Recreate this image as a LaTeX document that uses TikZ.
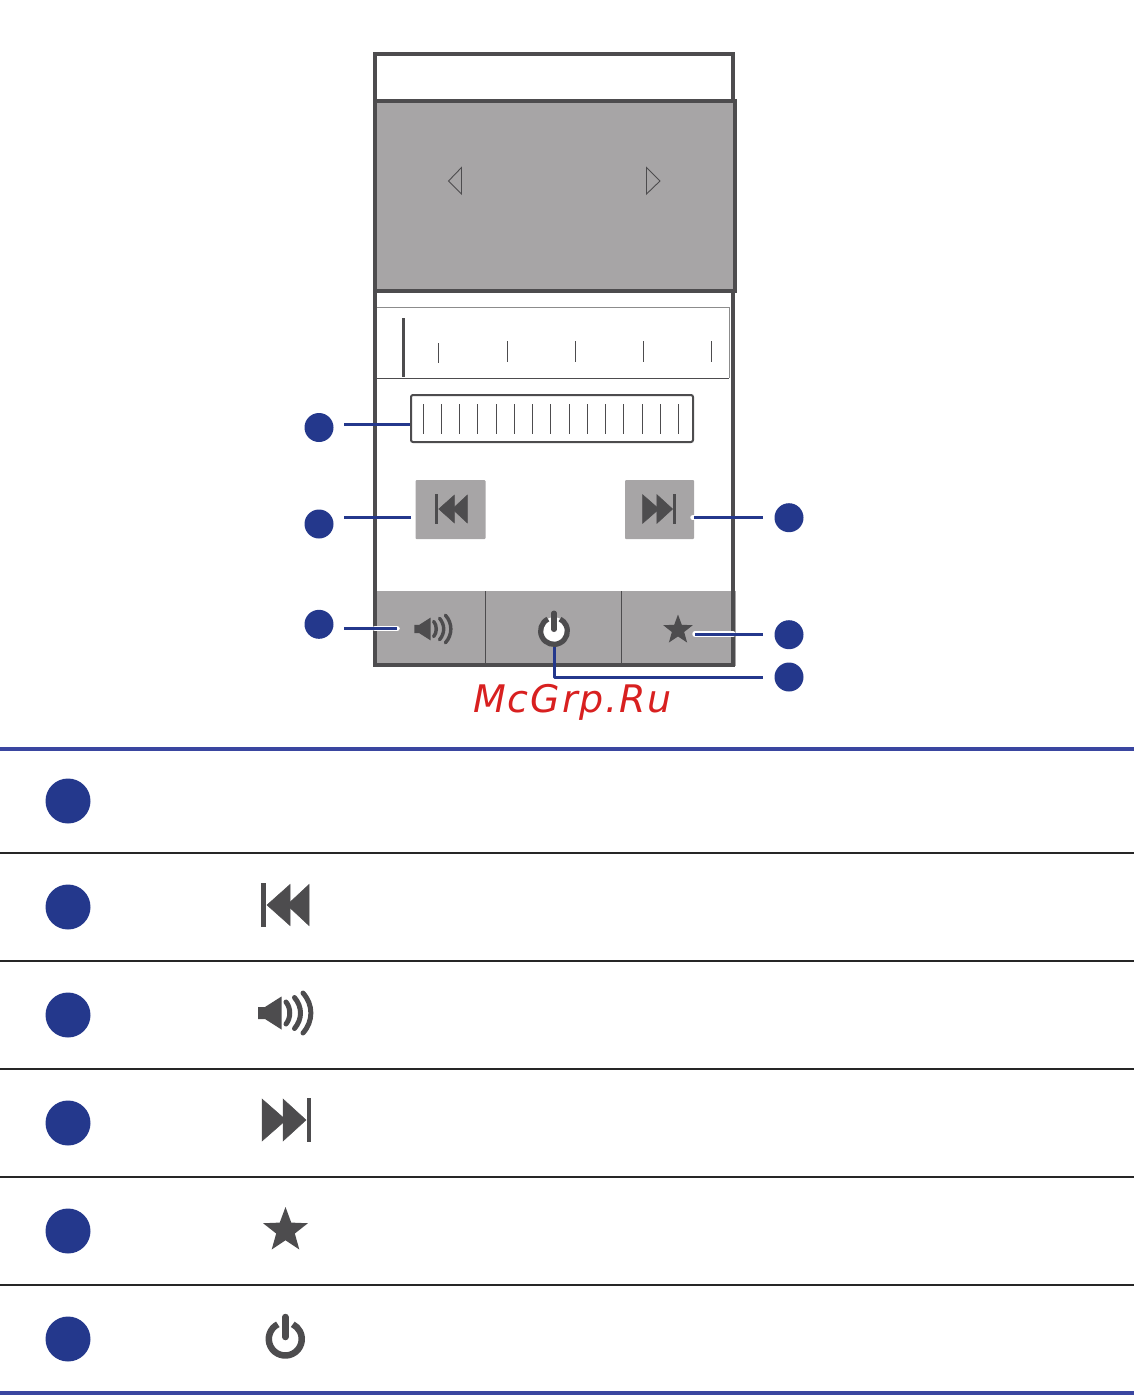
\documentclass[tikz,border=0pt]{standalone}
\usepackage{fontspec}
\usetikzlibrary{shapes.geometric}
\newfontfamily\markfont[LetterSpace=5]{DejaVu Sans}
\definecolor{bodygray}{HTML}{4D4C4E}
\definecolor{panelgray}{HTML}{A7A5A6}
\definecolor{leadblue}{HTML}{24388C}
\definecolor{ruleblue}{HTML}{3A46A0}
\definecolor{markred}{HTML}{D82020}
\tikzset{
  bullet/.style={circle,fill=leadblue,inner sep=0pt,minimum size=29pt},
  bigbullet/.style={circle,fill=leadblue,inner sep=0pt,minimum size=45pt},
  lead/.style={draw=leadblue,line width=3pt,line join=round},
  halo/.style={draw=white,line width=5.5pt,line cap=round},
  keybox/.style={fill=panelgray,inner sep=0pt,minimum width=70pt,minimum height=59pt,rounded corners=1pt},
  tick/.style={draw=bodygray,line width=0.9pt},
  rowline/.style={draw=black!85,line width=2pt},
  blueline/.style={draw=ruleblue,line width=4pt},
  staricon/.style={star,star points=5,star point ratio=2.4,fill=bodygray,inner sep=0pt},
}
% icons: x, y, scale
\newcommand{\previcon}[3]{
  \begin{scope}[shift={(#1,#2)},scale=#3]
    \fill[bodygray] (-24,-22) rectangle (-19,22);
    \filldraw[bodygray,line width=0.5pt] (-18,0) -- (5,-20.5) -- (5,20.5) -- cycle;
    \filldraw[bodygray,line width=0.5pt] (2,0) -- (24,-20.5) -- (24,20.5) -- cycle;
  \end{scope}}
\newcommand{\nexticon}[3]{
  \begin{scope}[shift={(#1,#2)},xscale=-#3,yscale=#3]
    \fill[bodygray] (-25,-22) rectangle (-21,22);
    \filldraw[bodygray,line width=0.5pt] (-20,0) -- (3,-21) -- (3,21) -- cycle;
    \filldraw[bodygray,line width=0.5pt] (0,0) -- (24,-21) -- (24,21) -- cycle;
  \end{scope}}
\newcommand{\speakericon}[3]{
  \begin{scope}[shift={(#1,#2)},scale=#3]
    \fill[bodygray] (-27,-6) -- (-20,-6) -- (-3.5,-16.5) -- (-3.5,16.5) -- (-20,6) -- (-27,6) -- cycle;
    \draw[bodygray,line width=#3*5pt,line cap=round]
      (1,-11) .. controls (6,-5) and (6,5) .. (1,11)
      (9.5,-15.5) .. controls (17.5,-6) and (17.5,6) .. (9.5,15.5)
      (18,-20) .. controls (28.5,-8) and (28.5,8) .. (18,20);
  \end{scope}}
\newcommand{\powericon}[3]{
  \begin{scope}[shift={(#1,#2)},scale=#3]
    \fill[white] (0,0) circle (17);
    \draw[bodygray,line width=#3*6.5pt] (-7.5,-14.7) arc[start angle=-117,delta angle=-306,radius=16.5];
    \draw[bodygray,line width=#3*6.5pt,line cap=round] (0,-22) to (0,-2);
  \end{scope}}
\begin{document}
\begin{tikzpicture}[x=1pt,y=-1pt]
  \useasboundingbox (0,0) rectangle (1134,1395);
  % phone
  \fill[panelgray] (375,591) rectangle (736,666);
  \draw[bodygray,line width=4pt] (375,54) rectangle (733,665);
  \draw[bodygray,fill=panelgray,line width=4pt] (375,101) rectangle (735,291);
  \draw[bodygray,line width=0.9pt] (461.5,167.5) -- (448.5,181) -- (461.5,194) -- cycle;
  \draw[bodygray,line width=0.9pt] (646.5,167.5) -- (660,181) -- (646.5,194) -- cycle;
  \draw[bodygray,line width=0.9pt] (485.5,591) to (485.5,663);
  \draw[bodygray,line width=0.9pt] (621.5,591) to (621.5,663);
  % tuner scale
  \draw[black!45,line width=0.8pt] (377,307) -- (729,307) -- (729,378);
  \draw[bodygray,line width=1pt] (377,378) to (729,378);
  \draw[bodygray,line width=3pt] (403.5,318) to (403.5,377);
  \draw[tick] (438,343) to (438,363);
  \draw[tick] (507,341) to (507,362);
  \draw[tick] (575,341) to (575,362);
  \draw[tick] (643,341) to (643,362);
  \draw[tick] (711,341) to (711,362);
  % fine tuning bar
  \node[draw=bodygray,fill=white,line width=2pt,rounded corners=2pt,inner sep=0pt,minimum width=282pt,minimum height=47pt] (bar) at (552,418.5) {};
  \draw[tick] (423,404) to (423,434);
  \draw[tick] (441.3,404) to (441.3,434);
  \draw[tick] (459.5,404) to (459.5,434);
  \draw[tick] (477.7,404) to (477.7,434);
  \draw[tick] (496,404) to (496,434);
  \draw[tick] (514.2,404) to (514.2,434);
  \draw[tick] (532.5,404) to (532.5,434);
  \draw[tick] (550.7,404) to (550.7,434);
  \draw[tick] (569,404) to (569,434);
  \draw[tick] (587.2,404) to (587.2,434);
  \draw[tick] (605.5,404) to (605.5,434);
  \draw[tick] (623.7,404) to (623.7,434);
  \draw[tick] (642,404) to (642,434);
  \draw[tick] (660.2,404) to (660.2,434);
  \draw[tick] (678.5,404) to (678.5,434);
  % keys
  \node[keybox] (prevkey) at (450.5,509.5) {};
  \node[keybox,minimum width=69pt] (nextkey) at (659.5,509.5) {};
  \previcon{451}{509}{0.68}
  \nexticon{659}{509}{0.68}
  \speakericon{433}{629}{0.69}
  \powericon{554}{631}{0.81}
  \node[staricon,minimum size=31pt] (favkey) at (678,630) {};
  \coordinate (volkey) at (397,628.5);
  \coordinate (onkey) at (554,647);
  \coordinate (favend) at (695,634);
  % callouts
  \draw
    (319,427.5) node[bullet] (a1){}
    (319,524) node[bullet] (a2){}
    (319,624.3) node[bullet] (a3){}
    (789,517.7) node[bullet] (a4){}
    (789,634.7) node[bullet] (a5){}
    (789,677) node[bullet] (a6){};
  \coordinate (s1) at ([xshift=10.5pt,yshift=3.5pt]a1.east);
  \coordinate (s2) at ([xshift=10.5pt,yshift=6.5pt]a2.east);
  \coordinate (s3) at ([xshift=10.5pt,yshift=-4.2pt]a3.east);
  \coordinate (s4) at ([xshift=-11.5pt]a4.west);
  \coordinate (s5) at ([xshift=-11.5pt,yshift=0.7pt]a5.west);
  \coordinate (s6) at ([xshift=-11.5pt]a6.west);
  \draw[halo] (375,628.5) to (volkey);
  \draw[halo] (favend) to (733,634);
  \draw[halo] (693,517.7) to (694,517.7);
  \begin{scope}[every path/.style={lead}]
    \draw (s1) -- (s1 -| bar.west);
    \draw (s2) -- ([xshift=-4pt]s2 -| prevkey.west);
    \draw (s3) -- (volkey);
    \draw (s4) -- (s4 -| nextkey.east);
    \draw (s5) -- (favend);
    \draw (s6) -| (onkey);
  \end{scope}
  \node[anchor=base west,inner sep=0pt,text=markred,font=\fontsize{38}{38}\selectfont\markfont\itshape] (mark) at (473,712) {McGrp.Ru};
  % table
  \draw[blueline] (0,748.5) to (1134,748.5);
  \draw[rowline] (0,853) to (1134,853);
  \draw[rowline] (0,961) to (1134,961);
  \draw[rowline] (0,1069) to (1134,1069);
  \draw[rowline] (0,1177) to (1134,1177);
  \draw[rowline] (0,1285) to (1134,1285);
  \draw[blueline] (0,1392.5) to (1134,1392.5);
  \draw
    (68,801) node[bigbullet] (b1){}
    (68,907) node[bigbullet] (b2){}
    (68,1015) node[bigbullet] (b3){}
    (68,1123) node[bigbullet] (b4){}
    (68,1231) node[bigbullet] (b5){}
    (68,1339) node[bigbullet] (b6){};
  \previcon{285}{905}{1}
  \speakericon{285}{1013}{1}
  \nexticon{286}{1120}{1}
  \node[staricon,minimum size=47pt] (favicon) at (285.5,1230.5) {};
  \powericon{285.3}{1339}{1}
\end{tikzpicture}
\end{document}
